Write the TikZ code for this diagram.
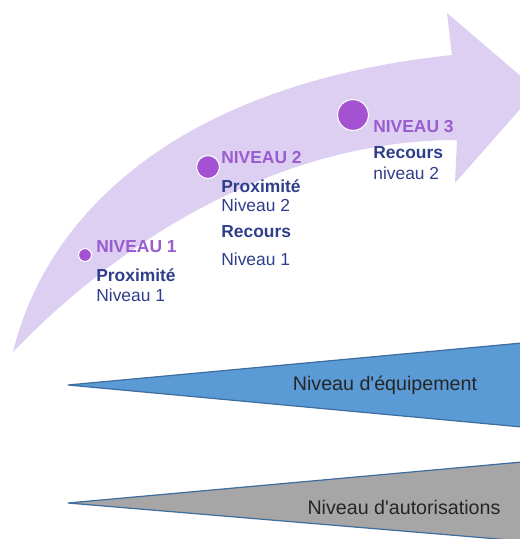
\documentclass[tikz,border=0pt]{standalone}
\usepackage{fontspec}
\newfontfamily\arialf{Liberation Sans}
\definecolor{bandlilac}{HTML}{DCCFF1}
\definecolor{dotpurple}{HTML}{A552D2}
\definecolor{lvlpurple}{HTML}{9A5CD0}
\definecolor{navytext}{HTML}{2F3E8A}
\definecolor{wedgeblue}{HTML}{5B9BD5}
\definecolor{wedgegray}{HTML}{A6A6A6}
\definecolor{wedgeedge}{HTML}{3F6E9E}
\tikzset{
  dot/.style={circle, fill=dotpurple, draw=white, line width=0.6pt, inner sep=0pt},
  lvltitle/.style={anchor=west, inner sep=0pt, text=lvlpurple, font=\arialf\bfseries\fontsize{9.9}{12}\selectfont},
  lvlhead/.style={anchor=west, inner sep=0pt, text=navytext, font=\arialf\bfseries\fontsize{9.9}{12}\selectfont},
  lvlsub/.style={anchor=west, inner sep=0pt, text=navytext, font=\arialf\fontsize{9.9}{12}\selectfont},
  wedge/.style={draw=wedgeedge, line width=0.7pt, line join=miter},
  wedgelabel/.style={inner sep=0pt, text=black!85, font=\arialf\fontsize{11.2}{13}\selectfont}
}
\begin{document}
\begin{tikzpicture}[x=0.02cm, y=-0.02cm]
  \useasboundingbox (0,0) rectangle (520,539);
  \clip (0,0) rectangle (520,539);

  % curved progression arrow
  \fill[bandlilac]
    (13,352) .. controls (45,220) and (170,85) .. (452,55)
    -- (447,13) -- (537,90) -- (455,183) -- (457,140)
    .. controls (300,140) and (140,220) .. (13,352) -- cycle;

  % level markers
  \node[dot, minimum size=13pt*0.567] (d1) at (85,255) {};
  \node[dot, minimum size=23pt*0.567] (d2) at (208,167) {};
  \node[dot, minimum size=31pt*0.567] (d3) at (353,115) {};

  % level 1
  \node[lvltitle] (t1) at (96,247) {NIVEAU 1};
  \node[lvlhead]  (p1) at (96,275) {Proximité};
  \node[lvlsub]   (n1) at (96,295) {Niveau 1};

  % level 2
  \node[lvltitle] (t2) at (221,158) {NIVEAU 2};
  \node[lvlhead]  (p2) at (221,186) {Proximité};
  \node[lvlsub]   (n2) at (221,205) {Niveau 2};
  \node[lvlhead]  (r2) at (221,232) {Recours};
  \node[lvlsub]   (m2) at (221,259) {Niveau 1};

  % level 3
  \node[lvltitle] (t3) at (373,127) {NIVEAU 3};
  \node[lvlhead]  (r3) at (373,153) {Recours};
  \node[lvlsub]   (m3) at (373,173) {niveau 2};

  % equipment wedge
  \draw[wedge, fill=wedgeblue] (68,385) -- (522,343) -- (522,427) -- cycle;
  \node[wedgelabel] (eq) at (385,385) {Niveau d'équipement};

  % authorisation wedge
  \draw[wedge, fill=wedgegray] (68,503) -- (522,462) -- (522,541) -- cycle;
  \node[wedgelabel] (au) at (404,507) {Niveau d'autorisations};
\end{tikzpicture}
\end{document}
